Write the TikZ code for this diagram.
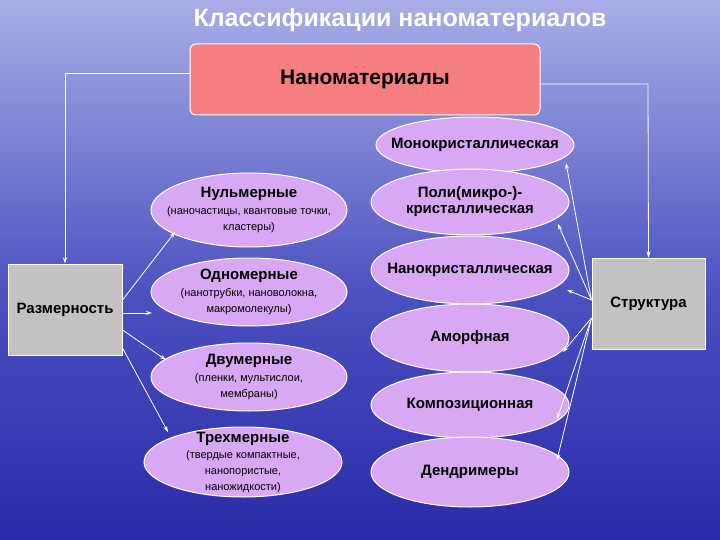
\documentclass[tikz,border=0pt]{standalone}
\usepackage{fontspec}
\setmainfont{Liberation Sans}
\usetikzlibrary{shapes.geometric,arrows.meta}
\definecolor{lil}{HTML}{D8A8F4}
\definecolor{sal}{HTML}{F47E80}
\definecolor{gry}{HTML}{C2C2C2}
\definecolor{bgtop}{HTML}{A8AEE6}
\definecolor{bgmid}{HTML}{4A4FC0}
\definecolor{bgbot}{HTML}{2A2AA8}
\tikzset{
 ell/.style={ellipse,draw=white,line width=1pt,fill=lil,inner sep=0pt},
 etxt/.style={align=center,inner sep=0pt,font=\bfseries\fontsize{15}{16}\selectfont},
 gbox/.style={rectangle,draw=white,line width=1pt,fill=gry,font=\bfseries\fontsize{15}{16}\selectfont},
 arr/.style={draw=white,line width=0.8pt,-{Stealth[length=6pt,width=4pt]}}
}
\newcommand{\subt}[1]{{\normalfont\fontsize{11}{12.5}\selectfont #1}}
\begin{document}
\begin{tikzpicture}[x=1pt,y=-1pt]
\useasboundingbox (0,0) rectangle (720,540);
\shade[top color=bgtop,bottom color=bgmid] (0,0) rectangle (720,300);
\shade[top color=bgmid,bottom color=bgbot] (0,300) rectangle (720,540);
\node[text=white,font=\bfseries\fontsize{25}{27}\selectfont] (title) at (400,20) {Классификации наноматериалов};
\node[rectangle,rounded corners=6pt,draw=white,line width=1pt,fill=sal,minimum width=350pt,minimum height=71pt,font=\bfseries\fontsize{21}{23}\selectfont] (nm) at (365,79.5) {Наноматериалы};
\node[gbox,minimum width=114pt,minimum height=91pt] (raz) at (65,309.5) {Размерность};
\node[gbox,minimum width=113pt,minimum height=91pt] (str) at (648.5,303.5) {Структура};
\node[ell,minimum width=196pt,minimum height=74pt] (e0) at (249,210) {};
\node[etxt] (t0) at (e0) {Нульмерные\\[1pt]\subt{(наночастицы, квантовые точки,}\\\subt{кластеры)}};
\node[ell,minimum width=196pt,minimum height=68pt] (e1) at (249,292) {};
\node[etxt] (t1) at (e1) {Одномерные\\[1pt]\subt{(нанотрубки, нановолокна,}\\\subt{макромолекулы)}};
\node[ell,minimum width=196pt,minimum height=68pt] (e2) at (249,377) {};
\node[etxt] (t2) at (e2) {Двумерные\\[1pt]\subt{(пленки, мультислои,}\\\subt{мембраны)}};
\node[ell,minimum width=198pt,minimum height=70pt] (e3) at (243,462) {};
\node[etxt] (t3) at (e3) {Трехмерные\\\subt{(твердые компактные,}\\\subt{нанопористые,}\\\subt{наножидкости)}};
\node[ell,minimum width=198pt,minimum height=56pt] (r0) at (475,145) {};
\node[etxt] (u0) at (r0) {Монокристаллическая};
\node[ell,minimum width=198pt,minimum height=66pt] (r1) at (470,202) {};
\node[etxt] (u1) at (r1) {Поли(микро-)-\\кристаллическая};
\node[ell,minimum width=198pt,minimum height=68pt] (r2) at (470,270) {};
\node[etxt] (u2) at (r2) {Нанокристаллическая};
\node[ell,minimum width=198pt,minimum height=68pt] (r3) at (470,338) {};
\node[etxt] (u3) at (r3) {Аморфная};
\node[ell,minimum width=198pt,minimum height=66pt] (r4) at (470,405) {};
\node[etxt] (u4) at (r4) {Композиционная};
\node[ell,minimum width=198pt,minimum height=70pt] (r5) at (470,472) {};
\node[etxt] (u5) at (r5) {Дендримеры};
\coordinate (a0) at (175,232);
\coordinate (a1) at (152,313);
\coordinate (a2) at (166,360);
\coordinate (a3) at (168,432);
\coordinate (b0) at (566,163);
\coordinate (b1) at (558,224);
\coordinate (b2) at (567,290);
\coordinate (b3) at (563,352);
\coordinate (b4) at (557,419);
\coordinate (b5) at (557,460);
\draw[arr] (nm.west |- 0,73) -- (65,73) -- (raz.north);
\draw[arr] (nm.east |- 0,84) -- (648,84) -- (str.north);
\draw[arr] (raz.east |- 0,300) -- (a0);
\draw[arr] (raz.east |- 0,313) -- (a1);
\draw[arr] (raz.east |- 0,330) -- (a2);
\draw[arr] (raz.east |- 0,348) -- (a3);
\coordinate (s) at (str.west |- 0,300);
\coordinate (s2) at (str.west |- 0,318);
\draw[arr] (s) -- (b0);
\draw[arr] (s) -- (b1);
\draw[arr] (s) -- (b2);
\draw[arr] (s2) -- (b3);
\draw[arr] (s2) -- (b4);
\draw[arr] (s2) -- (b5);
\end{tikzpicture}
\end{document}
